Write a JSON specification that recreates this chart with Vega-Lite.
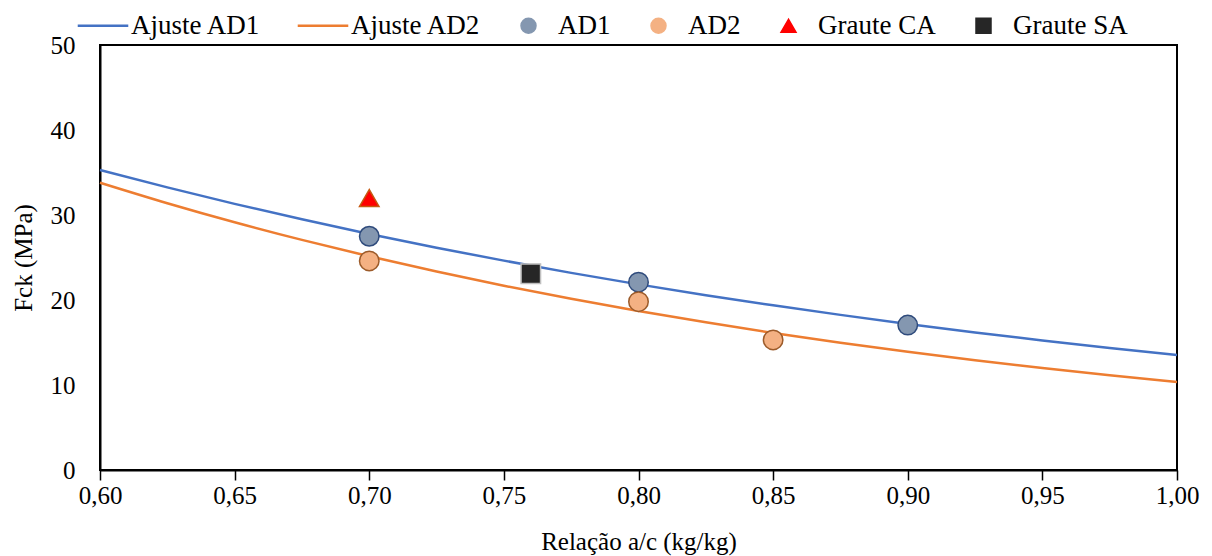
{
  "$schema": "https://vega.github.io/schema/vega-lite/v6.json",
  "width": 1077,
  "height": 425,
  "autosize": {"type": "none"},
  "padding": {"left": 100, "top": 45, "right": 35, "bottom": 86},
  "background": "white",
  "config": {
    "font": "Liberation Serif",
    "view": {"stroke": "#000", "strokeWidth": 2},
    "axis": {
      "grid": false,
      "labelFont": "Liberation Serif",
      "titleFont": "Liberation Serif",
      "labelFontSize": 25,
      "titleFontSize": 25,
      "labelColor": "#000",
      "titleColor": "#000",
      "titleFontWeight": "normal",
      "domainColor": "#000",
      "domainWidth": 2,
      "tickColor": "#000",
      "tickWidth": 1.5
    },
    "legend": {
      "orient": "none",
      "direction": "horizontal",
      "legendX": -12,
      "legendY": -33,
      "columns": 6,
      "columnPadding": 34,
      "symbolSize": 225,
      "labelFont": "Liberation Serif",
      "labelFontSize": 27,
      "labelColor": "#000",
      "labelOffset": 16,
      "labelLimit": 300,
      "symbolStrokeWidth": 1.5
    }
  },
  "datasets": {
    "fit": [
      {"x": 0.600, "y": 35.30, "serie": "Ajuste AD1"},
      {"x": 0.625, "y": 33.25, "serie": "Ajuste AD1"},
      {"x": 0.650, "y": 31.31, "serie": "Ajuste AD1"},
      {"x": 0.675, "y": 29.49, "serie": "Ajuste AD1"},
      {"x": 0.700, "y": 27.77, "serie": "Ajuste AD1"},
      {"x": 0.725, "y": 26.15, "serie": "Ajuste AD1"},
      {"x": 0.750, "y": 24.63, "serie": "Ajuste AD1"},
      {"x": 0.775, "y": 23.19, "serie": "Ajuste AD1"},
      {"x": 0.800, "y": 21.84, "serie": "Ajuste AD1"},
      {"x": 0.825, "y": 20.57, "serie": "Ajuste AD1"},
      {"x": 0.850, "y": 19.37, "serie": "Ajuste AD1"},
      {"x": 0.875, "y": 18.25, "serie": "Ajuste AD1"},
      {"x": 0.900, "y": 17.18, "serie": "Ajuste AD1"},
      {"x": 0.925, "y": 16.18, "serie": "Ajuste AD1"},
      {"x": 0.950, "y": 15.24, "serie": "Ajuste AD1"},
      {"x": 0.975, "y": 14.35, "serie": "Ajuste AD1"},
      {"x": 1.000, "y": 13.52, "serie": "Ajuste AD1"},
      {"x": 0.600, "y": 33.80, "serie": "Ajuste AD2"},
      {"x": 0.625, "y": 31.39, "serie": "Ajuste AD2"},
      {"x": 0.650, "y": 29.15, "serie": "Ajuste AD2"},
      {"x": 0.675, "y": 27.07, "serie": "Ajuste AD2"},
      {"x": 0.700, "y": 25.14, "serie": "Ajuste AD2"},
      {"x": 0.725, "y": 23.35, "serie": "Ajuste AD2"},
      {"x": 0.750, "y": 21.68, "serie": "Ajuste AD2"},
      {"x": 0.775, "y": 20.14, "serie": "Ajuste AD2"},
      {"x": 0.800, "y": 18.70, "serie": "Ajuste AD2"},
      {"x": 0.825, "y": 17.37, "serie": "Ajuste AD2"},
      {"x": 0.850, "y": 16.13, "serie": "Ajuste AD2"},
      {"x": 0.875, "y": 14.98, "serie": "Ajuste AD2"},
      {"x": 0.900, "y": 13.91, "serie": "Ajuste AD2"},
      {"x": 0.925, "y": 12.92, "serie": "Ajuste AD2"},
      {"x": 0.950, "y": 12.00, "serie": "Ajuste AD2"},
      {"x": 0.975, "y": 11.14, "serie": "Ajuste AD2"},
      {"x": 1.000, "y": 10.35, "serie": "Ajuste AD2"}
    ],
    "pts": [
      {"x": 0.70, "y": 27.5, "serie": "AD1"},
      {"x": 0.80, "y": 22.1, "serie": "AD1"},
      {"x": 0.90, "y": 17.05, "serie": "AD1"},
      {"x": 0.70, "y": 24.6, "serie": "AD2"},
      {"x": 0.80, "y": 19.8, "serie": "AD2"},
      {"x": 0.85, "y": 15.3, "serie": "AD2"},
      {"x": 0.70, "y": 32.0, "serie": "Graute CA"},
      {"x": 0.76, "y": 23.1, "serie": "Graute SA"}
    ]
  },
  "encoding": {
    "x": {
      "field": "x",
      "type": "quantitative",
      "scale": {"domain": [0.6, 1.0], "nice": false, "zero": false},
      "axis": {
        "title": "Relação a/c (kg/kg)",
        "values": [0.6, 0.65, 0.7, 0.75, 0.8, 0.85, 0.9, 0.95, 1.0],
        "labelExpr": "replace(format(datum.value, '.2f'), '.', ',')",
        "tickSize": 10,
        "labelPadding": 3,
        "titlePadding": 21,
        "labelFlush": false,
        "labelOverlap": false
      }
    },
    "y": {
      "field": "y",
      "type": "quantitative",
      "scale": {"domain": [0, 50], "nice": false},
      "axis": {
        "title": "Fck (MPa)",
        "values": [0, 10, 20, 30, 40, 50],
        "ticks": false,
        "labelPadding": 25,
        "titlePadding": 14
      }
    },
    "color": {
      "field": "serie",
      "type": "nominal",
      "scale": {
        "domain": ["Ajuste AD1", "Ajuste AD2", "AD1", "AD2", "Graute CA", "Graute SA"],
        "range": ["#4472C4", "#ED7D31", "#8497B0", "#F4B183", "#FF0000", "#262626"]
      },
      "legend": {
        "title": null,
        "encode": {
          "symbols": {
            "update": {
              "fill": {"signal": "datum.label === 'Ajuste AD1' ? '#4472C4' : datum.label === 'Ajuste AD2' ? '#ED7D31' : datum.label === 'AD1' ? '#8497B0' : datum.label === 'AD2' ? '#F4B183' : datum.label === 'Graute CA' ? '#FF0000' : '#262626'"},
              "stroke": {"signal": "datum.label === 'Ajuste AD1' ? '#4472C4' : datum.label === 'Ajuste AD2' ? '#ED7D31' : datum.label === 'AD1' ? '#2F4B7C' : datum.label === 'AD2' ? '#9C5B2A' : datum.label === 'Graute CA' ? '#C55A11' : '#BFBFBF'"},
              "strokeWidth": {"value": 1.5},
              "shape": {"signal": "indexof(datum.label, 'Ajuste') === 0 ? 'M-3.07,-0.08H3.47V0.08H-3.07Z' : datum.label === 'Graute CA' ? 'triangle-up' : datum.label === 'Graute SA' ? 'square' : 'circle'"},
              "opacity": {"value": 1}
            }
          }
        }
      }
    }
  },
  "layer": [
    {
      "data": {"name": "fit"},
      "mark": {"type": "line", "strokeWidth": 2.5, "interpolate": "monotone"}
    },
    {
      "data": {"name": "pts"},
      "mark": {"type": "point", "filled": true, "opacity": 1, "strokeWidth": 1.5},
      "encoding": {
        "shape": {
          "field": "serie",
          "type": "nominal",
          "scale": {
            "domain": ["AD1", "AD2", "Graute CA", "Graute SA"],
            "range": ["circle", "circle", "triangle-up", "square"]
          },
          "legend": null
        },
        "stroke": {
          "field": "serie",
          "type": "nominal",
          "scale": {
            "domain": ["AD1", "AD2", "Graute CA", "Graute SA"],
            "range": ["#2F4B7C", "#9C5B2A", "#C55A11", "#BFBFBF"]
          },
          "legend": null
        },
        "size": {
          "field": "serie",
          "type": "nominal",
          "scale": {
            "domain": ["AD1", "AD2", "Graute CA", "Graute SA"],
            "range": [380, 380, 324, 289]
          },
          "legend": null
        }
      }
    }
  ]
}
